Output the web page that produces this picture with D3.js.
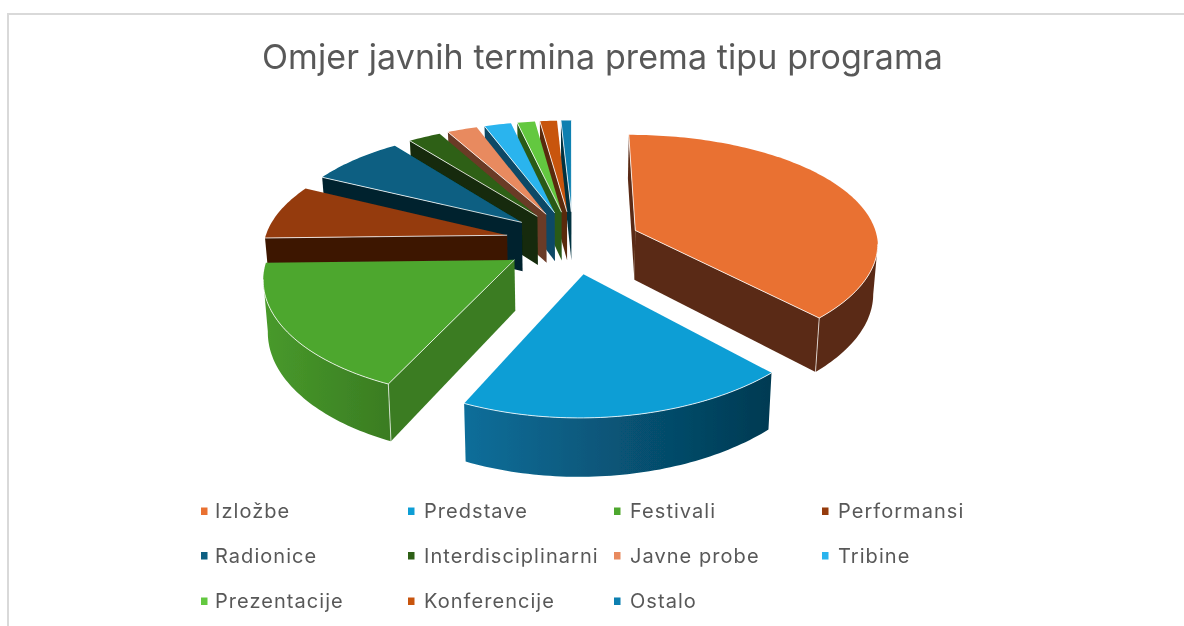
<!DOCTYPE html>
<html>
<head>
<meta charset="utf-8">
<title>Omjer javnih termina</title>
<script src="https://cdn.jsdelivr.net/npm/d3@7"></script>
<style>
  html, body { margin: 0; padding: 0; background: #fff; overflow: hidden; }
  text { font-family: Inter, Roboto, sans-serif; fill: #595959; }
</style>
</head>
<body>
<svg id="chart" width="1184" height="626"></svg>
<script>
//
// Data
//
const chartTitle = 'Omjer javnih termina prema tipu programa';
const categories = ['Izložbe', 'Predstave', 'Festivali', 'Performansi', 'Radionice',
  'Interdisciplinarni', 'Javne probe', 'Tribine', 'Prezentacije', 'Konferencije', 'Ostalo'];
const shares = [37.8, 18.9, 17.9, 7.8, 7.3, 2.5, 2.3, 2.05, 1.35, 1.3, 0.8];

//
// Colors
//
const colorTop = ['#E97132', '#0F9ED5', '#4EA72E', '#953A0C', '#075F82', '#2F6017',
  '#E88A5E', '#2AB4EE', '#64C840', '#C85510', '#0A7FB0'];
const colorWall = ['#5A2A14', '#043A52', '#3A7C22', '#3C1806', '#02232F', '#122A08',
  '#6B3A26', '#0F4A66', '#2A5A18', '#5A2A10', '#043040'];
// outer rim shading, left to right
const colorRimLeft = ['#5A2A14', '#0A6E9A', '#489A2B', '#3C1806', '#02232F', '#122A08',
  '#6B3A26', '#0F4A66', '#2A5A18', '#5A2A10', '#043040'];
const colorRimRight = ['#5A2A14', '#043A52', '#3A7C22', '#3C1806', '#02232F', '#122A08',
  '#6B3A26', '#0F4A66', '#2A5A18', '#5A2A10', '#043040'];

//
// Configuration
//
const centerX = 573;
const centerY = 242;
const radius = 243;
const explode = 68;
const depth = 50;
// vertical squash of the ground plane and perspective strength
const squash = 0.463;
const perspectiveX = 0.000487;
const perspectiveY = 0.000594;
const bottomShrink = 0.015;
// the near half of the pie leans a little to the left
const lean = 0.024;

const legendMarkerX = [201, 408, 614, 822];
const legendTextX = [215, 424, 630, 838];
const legendRowY = [511, 555.5, 601];
const legendCols = [0, 1, 2, 3, 0, 1, 2, 3, 0, 1, 2];
const legendRows = [0, 0, 0, 0, 1, 1, 1, 1, 2, 2, 2];

//
// Variables
//
const svg = d3.select('#chart');
const defs = svg.append('defs');
defs.append('filter').attr('id', 'soft')
    .attr('x', '-2%').attr('y', '-2%').attr('width', '104%').attr('height', '104%')
    .append('feGaussianBlur').attr('stdDeviation', 0.6);
const root = svg.append('g').attr('filter', 'url(#soft)');
const line = d3.line();

const pie = d3.pie().sort(null).value(d => d.share);
const slices = pie(categories.map((name, i) => ({name, share: shares[i], index: i})));

//
// Functions
//
function project(x, y, z) {
  const fx = 1 / (1 + perspectiveX * y);
  const fy = 1 / (1 + perspectiveY * y);
  const shrink = 1 - bottomShrink * z / depth;
  const shift = y < 0 ? lean * y : 0;
  return [centerX + shift + x * fx * shrink, centerY - squash * y * fy + z * fx];
}

// outline of the top face, walked clockwise: apex, arc, back to apex
function ring(slice) {
  const mid = (slice.startAngle + slice.endAngle) / 2;
  const ox = explode * Math.sin(mid);
  const oy = explode * Math.cos(mid);
  const steps = Math.max(2, Math.ceil((slice.endAngle - slice.startAngle) / 0.02));
  const angle = d3.scaleLinear().domain([0, steps]).range([slice.startAngle, slice.endAngle]);
  const arc = d3.range(steps + 1).map(i => {
    const t = angle(i);
    return {x: ox + radius * Math.sin(t), y: oy + radius * Math.cos(t)};
  });
  return {apex: {x: ox, y: oy}, arc};
}

function wall(points) {
  const top = points.map(p => project(p.x, p.y, 0));
  const bottom = points.map(p => project(p.x, p.y, depth)).reverse();
  return line(top.concat(bottom)) + 'Z';
}

function topLine(points) {
  return line(points.map(p => project(p.x, p.y, 0)));
}

function facesViewer(a, b) {
  return project(b.x, b.y, 0)[0] < project(a.x, a.y, 0)[0];
}

function drawSlice(slice) {
  const i = slice.data.index;
  const {apex, arc} = ring(slice);
  const g = root.append('g').attr('class', 'slice');

  const first = arc[0];
  const last = arc[arc.length - 1];
  const startVisible = facesViewer(apex, first);
  const endVisible = facesViewer(last, apex);
  const highlights = [];
  const corners = [];

  if (startVisible) {
    g.append('path').attr('d', wall([apex, first])).attr('fill', colorWall[i]);
    highlights.push([apex, first]);
  }
  if (endVisible) {
    g.append('path').attr('d', wall([last, apex])).attr('fill', colorWall[i]);
    highlights.push([last, apex]);
  }

  // only the part of the rim that faces the viewer
  const rim = arc.filter((p, k) => {
    const next = arc[k + 1];
    const prev = arc[k - 1];
    return (next && facesViewer(p, next)) || (prev && facesViewer(prev, p));
  });
  if (rim.length > 1) {
    const id = 'rim' + i;
    const gradient = defs.append('linearGradient').attr('id', id);
    gradient.append('stop').attr('offset', '0%').attr('stop-color', colorRimLeft[i]);
    gradient.append('stop').attr('offset', '100%').attr('stop-color', colorRimRight[i]);
    g.append('path').attr('d', wall(rim)).attr('fill', 'url(#' + id + ')');
    highlights.push(rim);
    if (startVisible && rim[0] === first) corners.push(first);
    if (endVisible && rim[rim.length - 1] === last) corners.push(last);
  }

  g.append('path')
      .attr('d', topLine([apex].concat(arc)) + 'Z')
      .attr('fill', colorTop[i]);

  highlights.forEach(points => {
    g.append('path')
        .attr('d', topLine(points))
        .attr('fill', 'none')
        .attr('stroke', '#fff')
        .attr('stroke-opacity', 0.8)
        .attr('stroke-width', 1);
  });
  corners.forEach(p => {
    g.append('path')
        .attr('d', line([project(p.x, p.y, 0), project(p.x, p.y, depth)]))
        .attr('stroke', '#fff')
        .attr('stroke-opacity', 0.7)
        .attr('stroke-width', 1);
  });
}

function drawLegend() {
  const item = root.selectAll('g.legend')
      .data(categories)
      .join('g')
      .attr('class', 'legend');
  item.append('rect')
      .attr('x', (d, i) => legendMarkerX[legendCols[i]])
      .attr('y', (d, i) => legendRowY[legendRows[i]] - 3.5)
      .attr('width', 6.5)
      .attr('height', 7.5)
      .attr('fill', (d, i) => colorTop[i]);
  item.append('text')
      .attr('x', (d, i) => legendTextX[legendCols[i]])
      .attr('y', (d, i) => legendRowY[legendRows[i]] + 7)
      .attr('font-size', 20)
      .attr('letter-spacing', 1.05)
      .text(d => d);
}

//
// Initialization
//
root.append('path')
    .attr('d', 'M8,626V14H1184')
    .attr('fill', 'none')
    .attr('stroke', '#d9d9d9')
    .attr('stroke-width', 2);

root.append('text')
    .attr('x', 602.5)
    .attr('y', 69)
    .attr('text-anchor', 'middle')
    .attr('font-size', 34)
    .attr('letter-spacing', 0.1)
    .text(chartTitle);

// back slices first so the front ones paint over them
slices.slice()
    .sort((a, b) => Math.cos((b.startAngle + b.endAngle) / 2) - Math.cos((a.startAngle + a.endAngle) / 2))
    .forEach(drawSlice);

drawLegend();
</script>
</body>
</html>
